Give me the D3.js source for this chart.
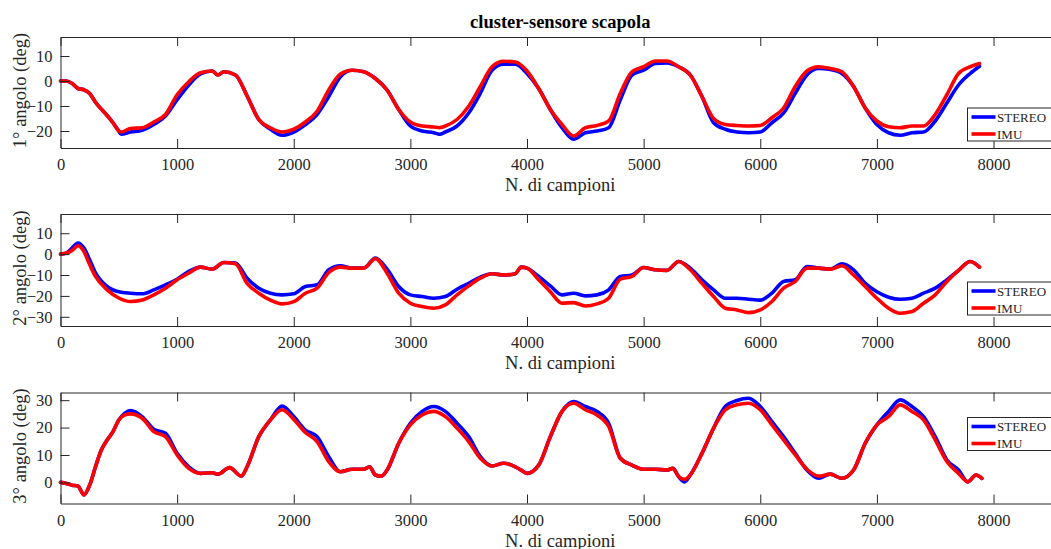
<!DOCTYPE html>
<html>
<head>
<meta charset="utf-8">
<script src="https://cdn.jsdelivr.net/npm/d3@7"></script>
<style>
  body { margin: 0; background: #fff; }
  svg text { font-family: "Liberation Serif", "Times New Roman", serif; fill: #262626; }
</style>
</head>
<body>
<svg width="1051" height="549"></svg>
<script>
// x ticks shared by all three panels
const xTicks = [0, 1000, 2000, 3000, 4000, 5000, 6000, 7000, 8000]
const seriesNames = ['STEREO', 'IMU']

// panel 1
const samples1 = [0, 50, 100, 150, 200, 250, 300, 400, 450, 500, 520, 600, 700, 800, 900, 1000, 1100, 1200, 1300, 1350, 1400, 1500,
  1600, 1700, 1800, 1900, 2000, 2100, 2200, 2300, 2400, 2500, 2600, 2700, 2800, 2900, 3000, 3100, 3200, 3250, 3300, 3400, 3500,
  3600, 3700, 3800, 3900, 4000, 4100, 4200, 4300, 4400, 4500, 4600, 4700, 4800, 4900, 5000, 5100, 5200, 5300, 5400, 5500, 5600,
  5700, 5800, 5900, 6000, 6100, 6200, 6300, 6400, 6500, 6600, 6700, 6800, 6900, 7000, 7100, 7200, 7300, 7400, 7500, 7600, 7700,
  7800, 7880]
const stereo1 = [0, 0, -1, -3, -3.5, -5, -8.5, -13.8, -16.7, -20, -21.3, -20.4, -19.7, -17.4, -14, -7.5, -1.6, 2.8, 4, 2.4, 3.7, 2.4,
  -6, -15.4, -19.3, -21.7, -20.4, -17.4, -13.4, -6.2, 1.7, 4.3, 3.7, 1, -3.6, -11.4, -18, -20, -20.7, -21.3, -20.4, -18, -12.8,
  -4.9, 4.3, 6.7, 6.7, 3, -3, -11.4, -18.7, -23.3, -20.7, -20, -18.7, -7.5, 2.4, 4.3, 7, 7.2, 5.7, 2.4, -6.2, -16.7,
  -19.3, -20.4, -20.7, -20.4, -16.7, -12.8, -4.9, 2.4, 5, 4.6, 3, -2.2, -10.8, -17.4, -20.7, -21.7, -20.7, -20.4, -16, -8.8, -1.6,
  3, 5.9]
const imu1 = [0, 0, -1, -3, -3.5, -5, -8.5, -13.8, -16.7, -20, -20.4, -19, -18.7, -16.4, -13.4, -5.5, -0.3, 3.3, 4, 2.4, 3.7, 2.4,
  -6, -15.4, -18.7, -20.4, -19.3, -16.4, -12.1, -3.6, 2.8, 4.3, 3.7, 1, -3.6, -11.4, -16.4, -18, -18.4, -18.7, -18, -15.4, -10.1,
  -2.2, 5.7, 7.9, 7.6, 4, -3, -11.4, -17.4, -22, -18.7, -17.8, -16, -4.9, 3.7, 5.7, 8, 8, 5.7, 2.4, -6.2, -15,
  -17.4, -17.8, -18, -17.8, -14.7, -10.8, -2.2, 4, 5.7, 5, 3.7, -2.2, -10.8, -16, -18.3, -18.7, -18, -18, -13.4, -5.5, 3,
  5.7, 7]
const yTicks1 = [-20, -10, 0, 10]

// panel 2
const samples2 = [0, 50, 100, 150, 200, 250, 300, 400, 500, 600, 700, 800, 900, 1000, 1100, 1200, 1300, 1400, 1500, 1600, 1700,
  1800, 1900, 2000, 2100, 2200, 2300, 2400, 2500, 2600, 2700, 2800, 2900, 3000, 3100, 3200, 3300, 3400, 3500, 3600, 3700, 3800,
  3900, 3950, 4000, 4100, 4200, 4300, 4400, 4500, 4600, 4700, 4800, 4900, 5000, 5100, 5200, 5300, 5400, 5500, 5600, 5700, 5800,
  5900, 6000, 6100, 6200, 6300, 6400, 6500, 6600, 6700, 6800, 6900, 7000, 7100, 7200, 7300, 7400, 7500, 7600, 7700, 7800, 7880]
const stereo2 = [0, 0.5, 3, 5.3, 3, -2.7, -9, -15.5, -18, -18.7, -19, -17.1, -14.7, -12, -8.3, -6.2, -7.2, -4, -4.3, -11.5, -16.3,
  -18.7, -19.5, -19, -15.5, -14.7, -7.5, -5.6, -6.7, -6.7, -1.9, -7.2, -15.5, -19.5, -20.3, -21.1, -20.3, -16.8, -14, -11, -9.4, -10,
  -9.4, -6.2, -6.7, -10.7, -15.2, -19.5, -18.7, -20, -19.5, -17.1, -10.7, -10, -6.4, -7.5, -7.8, -3.5, -6.7, -12.3, -17.1, -21.1, -21.1,
  -21.6, -22, -18.7, -13.1, -12.3, -5.9, -6.7, -7.2, -4.6, -7.5, -14, -18, -20.6, -21.6, -21.1, -18.7, -16.3, -12.3, -7.8, -3.5, -6.2]
const imu2 = [0, 0.5, 1.8, 4, 1.3, -5, -10.7, -17.1, -21, -22.7, -22, -19.5, -16.3, -12.3, -9.1, -6.2, -7.2, -4, -4.6, -14, -18.7,
  -22, -23.8, -22.7, -18.7, -16.3, -8.8, -6.2, -6.7, -6.7, -2.2, -9.1, -18.7, -23.5, -25.1, -25.9, -24.3, -19.5, -15.2, -11.5, -9.4, -10,
  -9.4, -6.2, -6.7, -12.3, -18, -23.5, -23.2, -24.8, -23.8, -21.1, -12, -10.7, -6.4, -7.5, -7.8, -3.5, -7.5, -14, -20.3, -25.9, -26.7,
  -28, -26.7, -22.7, -16.3, -13.1, -6.7, -6.7, -7.2, -5.6, -10, -15.5, -21.1, -25.9, -28.3, -27.5, -23.5, -19.5, -13.1, -7.8, -3.5, -6.2]
const yTicks2 = [-30, -20, -10, 0, 10]

// panel 3
const samples3 = [0, 50, 100, 150, 180, 200, 250, 300, 350, 400, 450, 500, 550, 600, 700, 800, 900, 1000, 1100, 1200, 1300, 1350,
  1450, 1550, 1600, 1700, 1800, 1900, 2000, 2100, 2200, 2300, 2400, 2500, 2600, 2650, 2700, 2750, 2800, 2900, 3000, 3100, 3200,
  3300, 3400, 3500, 3600, 3700, 3800, 3900, 3950, 4000, 4100, 4200, 4300, 4400, 4500, 4600, 4700, 4800, 4900, 5000, 5100, 5200,
  5250, 5300, 5350, 5400, 5500, 5600, 5700, 5800, 5900, 6000, 6100, 6200, 6300, 6400, 6500, 6600, 6700, 6800, 6900, 7000, 7100,
  7200, 7300, 7400, 7500, 7600, 7700, 7780, 7850, 7900]
const stereo3 = [0, -0.4, -1, -1.3, -3.4, -4.6, -1, 5.7, 11.8, 15.5, 18.5, 22.8, 25.2, 26.2, 24, 19.4, 17.9, 10.6, 5.7, 3.3, 3.5, 3,
  5.4, 2.3, 5.7, 16.7, 22.8, 27.9, 24, 19.1, 16.7, 9.4, 3.9, 4.8, 4.8, 5.7, 2.7, 2.3, 4.5, 14.3, 21.6, 25.9, 27.7,
  25.9, 21.6, 16.7, 9.4, 6, 7, 5.7, 4.5, 3.3, 6.3, 16.7, 25.9, 29.5, 27.7, 25.9, 21.6, 8.8, 6.3, 4.8, 4.8, 4.5,
  5.1, 2.1, 0.2, 2.7, 10.6, 19.8, 27.7, 29.9, 30.7, 27.7, 22.2, 16.7, 10.6, 4.5, 1.5, 3, 1.5, 4.5, 14.3, 21, 25.9,
  30.1, 27.7, 24, 16.7, 8.2, 4.5, 0.2, 2.7, 1.5]
const imu3 = [0, -0.4, -1, -1.3, -3.4, -4.6, -1, 5.7, 11.8, 15.5, 18.5, 22.8, 24.6, 25, 23.4, 18.5, 16.7, 10, 5.1, 3.3, 3.5, 3,
  5.4, 2.3, 5.7, 16.7, 22.8, 26.5, 23, 18.2, 14.9, 7.6, 3.9, 4.8, 4.8, 5.7, 2.7, 2.3, 4.5, 14.3, 21, 24.6, 25.9,
  24, 19.8, 14.9, 8.8, 6, 7, 5.7, 4.5, 3.3, 6.3, 16.7, 25.9, 28.9, 26.5, 24.6, 20.4, 8.8, 6.3, 4.8, 4.8, 4.5,
  5.1, 2.1, 1.1, 2.7, 10.6, 19.8, 26.5, 28.3, 28.9, 26.5, 21, 15.5, 10, 4.8, 2.3, 3, 1.5, 4.5, 14.3, 21, 24,
  28.3, 25.9, 22.8, 15.5, 7.6, 3.3, 0.2, 2.7, 1.5]
const yTicks3 = [0, 10, 20, 30]

const colors = ['#0000ff', '#ff0000']
const lineWidth = 3.6
const tickLen = 9
const ink = '#262626'
const serif = '"Liberation Serif", "Times New Roman", serif'

const svg = d3.select('svg').attr('font-family', serif)

const panels = [
  { samples: samples1, series: [stereo1, imu1], ticks: yTicks1, top: 37, bottom: 148, yDomain: [-26.8, 17.6], label: '1° angolo (deg)', legendTop: 108 },
  { samples: samples2, series: [stereo2, imu2], ticks: yTicks2, top: 214, bottom: 326, yDomain: [-34.4, 19.2], label: '2° angolo (deg)', legendTop: 282 },
  { samples: samples3, series: [stereo3, imu3], ticks: yTicks3, top: 392.5, bottom: 503.5, yDomain: [-7.7, 32.8], label: '3° angolo (deg)', legendTop: 417.5 }
]

const left = 60.5
const right = 1060

const x = d3.scaleLinear()
            .domain([0, 8570])
            .range([left, right])

svg.append('text')
   .attr('x', (left + right) / 2)
   .attr('y', 28)
   .attr('text-anchor', 'middle')
   .style('font-weight', 'bold')
   .style('font-size', '18.5px')
   .style('fill', '#000')
   .text('cluster-sensore scapola')

panels.forEach(p => {
  const y = d3.scaleLinear()
              .domain(p.yDomain)
              .range([p.bottom, p.top])

  const g = svg.append('g')

  const line = d3.line()
                 .x((d, i) => x(p.samples[i]))
                 .y(d => y(d))
                 .curve(d3.curveMonotoneX)

  p.series.forEach((s, k) => {
    g.append('path')
     .datum(s)
     .attr('fill', 'none')
     .attr('stroke', colors[k])
     .attr('stroke-width', lineWidth)
     .attr('stroke-linejoin', 'round')
     .attr('stroke-linecap', 'round')
     .attr('d', line)
  })

  // box with inward ticks on all four sides
  const bottomAxis = g.append('g')
                      .attr('transform', `translate(0,${p.bottom})`)
                      .call(d3.axisBottom(x).tickValues(xTicks).tickFormat(d3.format('d'))
                              .tickSizeInner(-tickLen).tickSizeOuter(0).tickPadding(10.5))
  const topAxis = g.append('g')
                   .attr('transform', `translate(0,${p.top})`)
                   .call(d3.axisTop(x).tickValues(xTicks).tickSizeInner(-tickLen).tickSizeOuter(0).tickFormat(''))
  const leftAxis = g.append('g')
                    .attr('transform', `translate(${left},0)`)
                    .call(d3.axisLeft(y).tickValues(p.ticks).tickFormat(d3.format('d'))
                            .tickSizeInner(-tickLen).tickSizeOuter(0).tickPadding(8))
  const rightAxis = g.append('g')
                     .attr('transform', `translate(${right},0)`)
                     .call(d3.axisRight(y).tickValues(p.ticks).tickSizeInner(-tickLen).tickSizeOuter(0).tickFormat(''))

  ;[bottomAxis, topAxis, leftAxis, rightAxis].forEach(a => {
    a.attr('font-family', serif).attr('font-size', 16.5)
    a.selectAll('path, line').attr('stroke', ink).attr('stroke-width', 1)
    a.selectAll('text').attr('fill', ink)
  })

  g.append('text')
   .attr('x', (left + right) / 2)
   .attr('y', p.bottom + 43)
   .attr('text-anchor', 'middle')
   .style('font-size', '18.5px')
   .text('N. di campioni')

  g.append('text')
   .attr('transform', `translate(26,${(p.top + p.bottom) / 2 - 2}) rotate(-90)`)
   .attr('text-anchor', 'middle')
   .style('font-size', '18.5px')
   .text(p.label)

  // legend
  const lg = g.append('g').attr('transform', `translate(967.5,${p.legendTop})`)
  lg.append('rect')
    .attr('width', 120)
    .attr('height', 33)
    .attr('fill', '#fff')
    .attr('stroke', ink)
    .attr('stroke-width', 1)
  seriesNames.forEach((name, k) => {
    const yy = 9 + k * 17
    lg.append('line')
      .attr('x1', 4).attr('x2', 28)
      .attr('y1', yy).attr('y2', yy)
      .attr('stroke', colors[k])
      .attr('stroke-width', lineWidth)
    lg.append('text')
      .attr('x', 29.5)
      .attr('y', yy)
      .attr('dy', '0.35em')
      .style('font-size', '13px')
      .text(name)
  })
})
</script>
</body>
</html>
